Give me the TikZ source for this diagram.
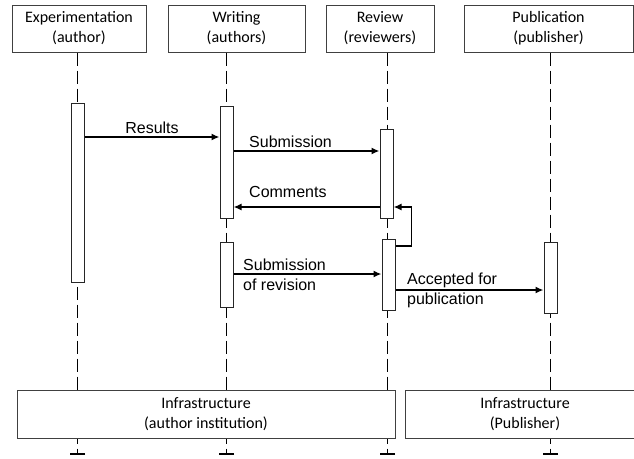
\documentclass[tikz,border=0pt]{standalone}
\usepackage{fontspec}
\usetikzlibrary{arrows.meta}
\newfontfamily\boxfont{Carlito}
\newfontfamily\msgfont{Liberation Sans}
\tikzset{
  hdr/.style={draw=black!75, line width=1pt, fill=white, align=center, inner sep=0pt,
    font=\boxfont\fontsize{16}{20}\selectfont},
  actbox/.style={draw=black!85, line width=1pt, fill=white, minimum width=13pt, inner sep=0pt},
  msg/.style={line width=1.6pt, -{Latex[length=8pt,width=7pt]}},
  lbl/.style={font=\msgfont\fontsize{16}{20}\selectfont, inner sep=0pt, align=left},
  lifeln/.style={line width=1.9pt, dash pattern=on 13pt off 5pt, -{Bar[width=15pt,line width=1.6pt]}}
}
\begin{document}
\begin{tikzpicture}[x=1pt,y=-1pt]
    \useasboundingbox (0,0) rectangle (634,458);
    \clip (0,0) rectangle (634,458);
    % headers
    \node[hdr, minimum width=134pt, minimum height=47pt] (exp) at (79,28.5) {Experimentation\\(author)};
    \node[hdr, minimum width=137pt, minimum height=47pt] (wri) at (236.5,28.5) {Writing\\(authors)};
    \node[hdr, minimum width=108pt, minimum height=47pt] (rev) at (380,28.5) {Review\\(reviewers)};
    \node[hdr, minimum width=169pt, minimum height=47pt] (pub) at (548.5,28.5) {Publication\\(publisher)};
    % lifelines
    \coordinate (expEnd) at (77.5,455);
    \coordinate (wriEnd) at (226.5,455);
    \coordinate (revEnd) at (387.5,455);
    \coordinate (pubEnd) at (550.5,455);
    \draw[lifeln] (expEnd |- exp.south) -- (expEnd);
    \draw[lifeln] (wriEnd |- wri.south) -- (wriEnd);
    \draw[lifeln] (revEnd |- rev.south) -- (revEnd);
    \draw[lifeln] (pubEnd |- pub.south) -- (pubEnd);
    % infrastructure
    \node[hdr, minimum width=378pt, minimum height=48pt] (infA) at (206,414) {Infrastructure\\(author institution)};
    \node[hdr, minimum width=240pt, minimum height=48pt] (infP) at (525,414) {Infrastructure\\(Publisher)};
    % activations
    \node[actbox, minimum height=179pt] (e1) at (77.5,192.5) {};
    \node[actbox, minimum height=112pt] (w1) at (226.5,162) {};
    \node[actbox, minimum height=65pt] (w2) at (226.5,274.5) {};
    \node[actbox, minimum height=89pt] (r1) at (386.5,173.5) {};
    \node[actbox, minimum height=71pt] (r2) at (388.5,274.5) {};
    \node[actbox, minimum height=71pt] (p1) at (550.5,277.5) {};
    % messages
    \draw[msg] (e1.east |- 0,137) -- node[lbl, above=3pt] (tRes) {Results} (w1.west |- 0,137);
    \draw[msg] (w1.east |- 0,151) -- (r1.west |- 0,151);
    \node[lbl, anchor=north west] (tSub) at (249,136) {Submission};
    \draw[msg] (r1.west |- 0,207) -- (w1.east |- 0,207);
    \node[lbl, anchor=north west] (tCom) at (249,186.5) {Comments};
    \draw[msg] (r2.east |- 0,246) -- ++(16,0) |- (r1.east |- 0,207);
    \draw[msg] (w2.east |- 0,274) -- (r2.west |- 0,274);
    \node[lbl, anchor=north west] (tRev) at (243,258.5) {Submission\\of revision};
    \draw[msg] (r2.east |- 0,290) -- (p1.west |- 0,290);
    \node[lbl, anchor=north west] (tAcc) at (407,272.5) {Accepted for\\publication};
\end{tikzpicture}
\end{document}
